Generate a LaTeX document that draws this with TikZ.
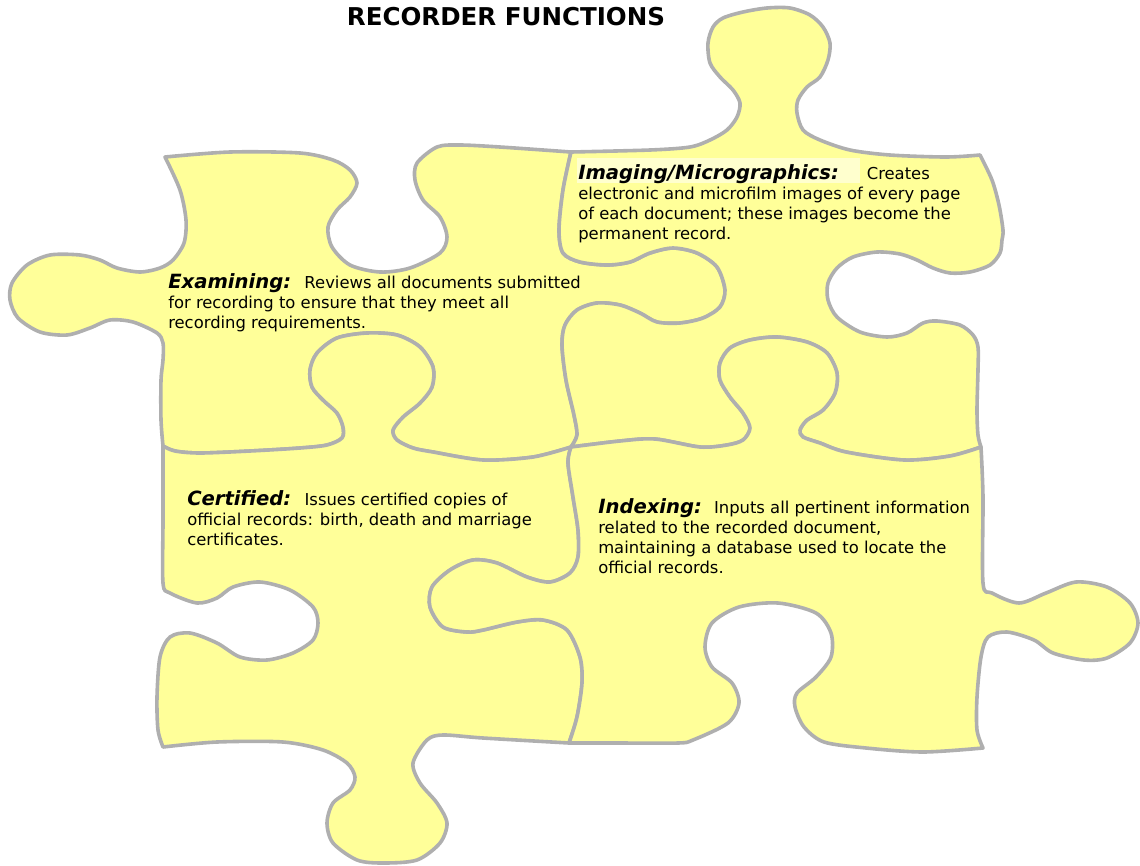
\documentclass[tikz,border=0pt]{standalone}
\usepackage{fontspec}
\setmainfont{DejaVu Sans}[ItalicFont = DejaVu Sans Oblique,
                          BoldFont = DejaVu Sans Bold,
                          BoldItalicFont = DejaVu Sans Bold Oblique]
\usepackage{tikz}
\definecolor{piecefill}{RGB}{255,255,153}
\definecolor{pieceline}{RGB}{175,175,175}
\definecolor{headlight}{RGB}{255,255,206}
\tikzset{piece/.style = {fill=piecefill, draw=pieceline, line width=2.7pt, line join=round},
         blurb/.style = {anchor=north west, inner sep=0pt, align=left,
                         font=\fontsize{12.3}{15}\selectfont}}
\newcommand{\pieceheading}[1]{{\fontsize{14.7}{15}\selectfont\bfseries\itshape #1}}

\begin{document}
\begin{tikzpicture}[x=0.75pt, y=-0.75pt]
      \useasboundingbox (0, 0) rectangle (1140, 865);

      % top left piece
      \filldraw [piece] plot [smooth] coordinates {(165, 157) (230, 152) (300, 153) (333, 160) (350, 170)
          (357, 183) (350, 197) (337, 210) (328, 227) (332, 247) (350, 265) (380, 272) (410, 268)
          (440, 253) (447, 237) (440, 217) (423, 200) (415, 180) (417, 163) (437, 147) (460, 145)
          (500, 147) (571, 152)}
        -- plot [smooth] coordinates {(571, 152) (563, 190) (559, 230) (563, 253) (580, 262) (607, 265)
          (630, 262) (650, 253) (673, 248) (697, 253) (717, 267) (725, 290) (720, 307) (703, 318)
          (680, 323) (657, 322) (640, 313) (620, 305) (597, 303) (577, 310) (565, 325) (562, 345)
          (566, 380) (574, 415) (577, 435) (571, 447)}
        -- plot [smooth] coordinates {(571, 447) (533, 457) (483, 460) (433, 452) (413, 448) (397, 440)
          (393, 430) (403, 417) (420, 403) (432, 387) (433, 367) (420, 347) (397, 335) (367, 333)
          (337, 338) (317, 353) (310, 370) (312, 387) (323, 400) (337, 413) (343, 427) (342, 438)
          (327, 445) (300, 448) (250, 451) (200, 453) (175, 451) (163, 446)}
        -- plot [smooth] coordinates {(163, 446) (161, 420) (161, 380) (163, 360) (163, 343) (157, 333)
          (133, 322) (110, 320) (90, 328) (67, 335) (40, 332) (18, 318) (10, 300) (12, 283) (27, 265)
          (50, 255) (80, 255) (100, 260) (117, 268) (140, 272) (160, 268) (173, 260) (184, 243)
          (186, 220) (180, 190) (165, 157)}
        -- cycle;

      % top right piece
      \filldraw [piece] plot [smooth] coordinates {(571, 152) (650, 150) (690, 147) (710, 140) (727, 130)
          (737, 117) (740, 103) (733, 90) (720, 77) (710, 63) (708, 43) (713, 27) (723, 18) (743, 12)
          (767, 8) (790, 8) (810, 15) (823, 27) (830, 43) (828, 60) (820, 77) (807, 87) (798, 100)
          (797, 113) (803, 130) (820, 140) (850, 150) (890, 155) (946, 157) (980, 155)}
        -- plot [smooth] coordinates {(980, 155) (992, 180) (999, 205) (1003, 230) (1002, 240)
          (1000, 253) (990, 265) (970, 272) (950, 273) (933, 268) (917, 260) (900, 254) (877, 252)
          (853, 257) (837, 268) (828, 283) (828, 300) (837, 317) (860, 332) (887, 337) (907, 333)
          (923, 323) (937, 321) (960, 325) (973, 335) (978, 347) (978, 370) (977, 410) (978, 435)
          (981, 447)}
        -- plot [smooth] coordinates {(981, 447) (950, 456) (904, 460) (846, 452) (820, 443) (803, 437)
          (800, 430) (807, 420) (823, 410) (835, 393) (837, 373) (827, 353) (807, 342) (777, 337)
          (750, 340) (730, 348) (720, 363) (720, 380) (730, 397) (743, 413) (750, 428) (743, 440)
          (727, 445) (700, 447) (655, 439) (620, 441) (571, 447)}
        -- plot [smooth] coordinates {(571, 447) (577, 435) (574, 415) (566, 380) (562, 345) (565, 325)
          (577, 310) (597, 303) (620, 305) (640, 313) (657, 322) (680, 323) (703, 318) (720, 307)
          (725, 290) (717, 267) (697, 253) (673, 248) (650, 253) (630, 262) (607, 265) (580, 262)
          (563, 253) (559, 230) (563, 190) (571, 152)}
        -- cycle;

      % bottom left piece
      \filldraw [piece] plot [smooth] coordinates {(163, 446) (175, 451) (200, 453) (250, 451) (300, 448)
          (327, 445) (342, 438) (343, 427) (337, 413) (323, 400) (312, 387) (310, 370) (317, 353)
          (337, 338) (367, 333) (397, 335) (420, 347) (433, 367) (432, 387) (420, 403) (403, 417)
          (393, 430) (397, 440) (413, 448) (433, 452) (483, 460) (533, 457) (571, 447)}
        -- plot [smooth] coordinates {(571, 447) (568, 463) (573, 497) (578, 530) (578, 557) (570, 573)
          (550, 582) (527, 577) (497, 563) (473, 560) (450, 570) (432, 587) (430, 607) (443, 627)
          (467, 632) (483, 630) (517, 622) (543, 620) (567, 630) (580, 657) (582, 683) (577, 717)
          (569, 743)}
        -- plot [smooth] coordinates {(569, 743) (483, 738) (443, 735) (427, 740) (413, 763) (420, 783)
          (437, 803) (447, 823) (440, 843) (417, 860) (383, 863) (357, 860) (333, 843) (327, 823)
          (333, 803) (350, 790) (355, 777) (347, 763) (323, 750) (283, 742) (217, 742) (163, 747)}
        -- plot [smooth] coordinates {(163, 747) (158, 730) (157, 697) (160, 657) (170, 637) (190, 633)
          (217, 643) (240, 657) (267, 660) (293, 653) (313, 640) (318, 623) (313, 607) (290, 590)
          (260, 582) (233, 587) (217, 598) (197, 603) (170, 593) (163, 583) (163, 520) (163, 446)}
        -- cycle;

      % bottom right piece
      \filldraw [piece] plot [smooth] coordinates {(571, 447) (620, 441) (655, 439) (700, 447) (727, 445)
          (743, 440) (750, 428) (743, 413) (730, 397) (720, 380) (720, 363) (730, 348) (750, 340)
          (777, 337) (807, 342) (827, 353) (837, 373) (835, 393) (823, 410) (807, 420) (800, 430)
          (803, 437) (820, 443) (846, 452) (904, 460) (950, 456) (981, 447)}
        -- plot [smooth] coordinates {(981, 447) (983, 497) (983, 583) (992, 593) (1019, 603)
          (1046, 593) (1076, 582) (1107, 587) (1130, 603) (1138, 623) (1130, 643) (1107, 658)
          (1084, 660) (1053, 653) (1034, 640) (1007, 632) (988, 637) (981, 657) (977, 697)
          (977, 730) (983, 748)}
        -- plot [smooth] coordinates {(983, 748) (923, 752) (866, 748) (824, 742) (804, 727) (795, 707)
          (797, 693) (816, 677) (831, 657) (831, 633) (816, 613) (778, 603) (739, 607) (712, 623)
          (705, 647) (712, 667) (732, 683) (739, 703) (728, 723) (693, 740) (678, 743) (617, 743)
          (569, 743)}
        -- plot [smooth] coordinates {(569, 743) (577, 717) (582, 683) (580, 657) (567, 630) (543, 620)
          (517, 622) (483, 630) (467, 632) (443, 627) (430, 607) (432, 587) (450, 570) (473, 560)
          (497, 563) (527, 577) (550, 582) (570, 573) (578, 557) (578, 530) (573, 497) (568, 463)
          (571, 447)}
        -- cycle;

      \fill [headlight] (577, 158) rectangle (860, 183);

      \node (title) at (506, 17) {\fontsize{18.4}{20}\selectfont\bfseries RECORDER FUNCTIONS};

      \node [blurb] (examining) at (168, 273) {\pieceheading{Examining:}\hspace{10pt}Reviews all documents submitted\\
        for recording to ensure that they meet all\\
        recording requirements.};
      \node [blurb] (imaging) at (578, 164) {\pieceheading{Imaging/Micrographics:}\hspace{21pt}Creates\\
        electronic and microfilm images of every page\\
        of each document; these images become the\\
        permanent record.};
      \node [blurb] (certified) at (187, 490) {\pieceheading{Certified:}\hspace{10pt}Issues certified copies of\\
        official records: birth, death and marriage\\
        certificates.};
      \node [blurb] (indexing) at (598, 498) {\pieceheading{Indexing:}\hspace{9pt}Inputs all pertinent information\\
        related to the recorded document,\\
        maintaining a database used to locate the\\
        official records.};
\end{tikzpicture}
\end{document}
